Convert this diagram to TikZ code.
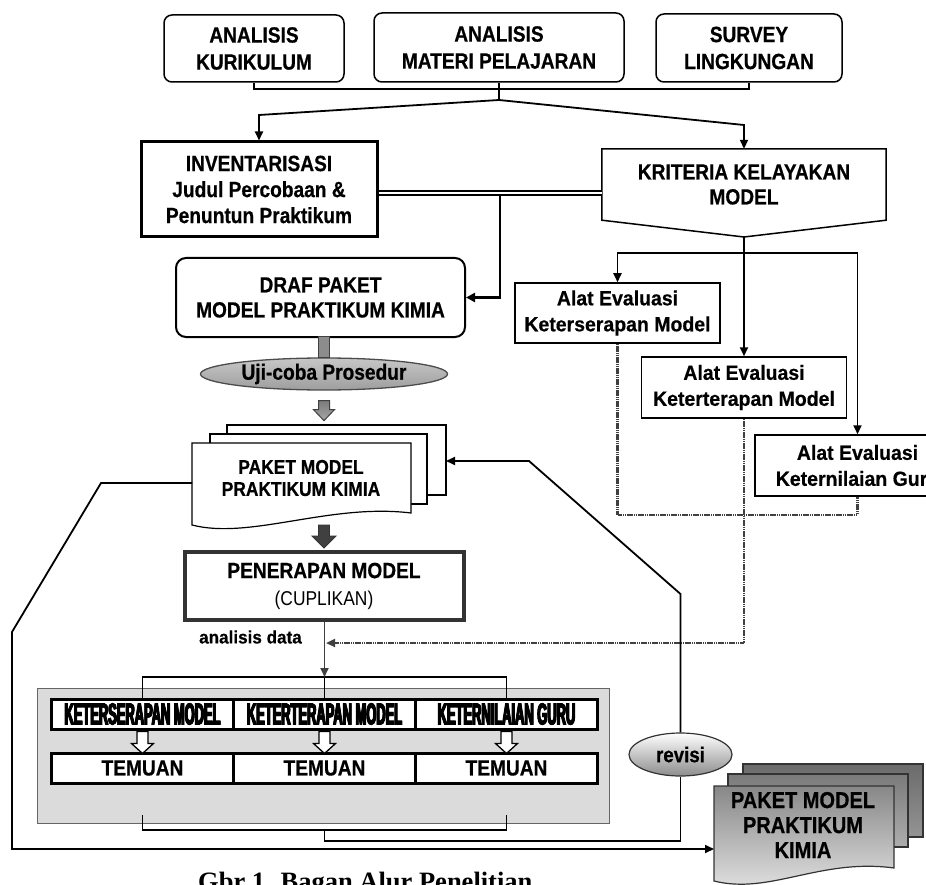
\documentclass[tikz,border=0pt]{standalone}
\usepackage{fontspec}
\setmainfont[FakeStretch=0.87, BoldFeatures={FakeBold=0.6}]{Liberation Sans}
\newfontfamily\alatfont[FakeStretch=0.95, BoldFeatures={FakeBold=0.5}]{Liberation Sans}
\newfontfamily\heavyfont[FakeStretch=0.43,FakeBold=3]{Liberation Sans Bold}
\newfontfamily\capfont{Liberation Serif}
\usetikzlibrary{arrows.meta,shapes.geometric}
\def\hollowdown(#1){\draw[line width=1.3pt, fill=white] (#1) ++(-5.5,1) -- ++(11,0) -- ++(0,12) -- ++(5.5,0) -- ++(-11,10) -- ++(-11,-10) -- ++(5.5,0) -- cycle;}
\newcommand{\heavytext}[1]{\rlap{#1}\hspace{0.4pt}#1}
\tikzset{
  topbox/.style={draw, rounded corners=8pt, line width=1.5pt, inner sep=0pt, align=center, font=\bfseries\fontsize{22}{27}\selectfont},
  flow/.style={line width=1.8pt},
  flowarrow/.style={line width=1.8pt, -{Triangle[width=8pt,length=9pt]}},
  alatbox/.style={draw, fill=white, line width=1.5pt, inner sep=0pt, align=center, minimum width=205pt, minimum height=61pt, font=\alatfont\bfseries\fontsize{20.5}{26}\selectfont},
  rowbox/.style={draw, fill=white, line width=3pt, inner sep=0pt, minimum width=182pt, minimum height=30pt},
  heavyrow/.style={rowbox, font=\heavyfont\fontsize{30}{32}\selectfont},
  dotline/.style={line width=2.2pt, black!75, dash pattern=on 1.6pt off 0.6pt},
  docline/.style={line width=1.2pt},
}
\begin{document}
\begin{tikzpicture}[x=1pt, y=-1pt]
			%%%%% START %%%%%
			\useasboundingbox (0,0) rectangle (926,885);
			\clip (0,0) rectangle (926,885);
			
			\node[topbox, minimum width=180pt, minimum height=67pt] (kurikulum) at (254,48.5) {ANALISIS\\KURIKULUM};
			\node[topbox, minimum width=250pt, minimum height=69pt] (materi) at (499,47.5) {ANALISIS\\MATERI PELAJARAN};
			\node[topbox, minimum width=186pt, minimum height=68pt] (survey) at (749,48) {SURVEY\\LINGKUNGAN};
			
			\coordinate (split) at (499,100);
			\coordinate (bendL) at (259,115);
			\coordinate (bendR) at (744,125);
			\draw[flow] (kurikulum.south) -- ++(0,6) -| (survey.south);
			\draw[flow] (materi.south) -- (split);
			
			\node[draw, line width=3pt, inner sep=0pt, minimum width=236pt, minimum height=95pt, align=center, font=\bfseries\fontsize{22}{26}\selectfont] (invent) at (259,189.5) {INVENTARISASI\\Judul Percobaan \&\\Penuntun Praktikum};
			\node[inner sep=0pt, minimum width=284pt, minimum height=71pt, align=center, font=\bfseries\fontsize{22}{25}\selectfont] (kriteria) at (744,184.5) {KRITERIA KELAYAKAN\\MODEL};
			\coordinate (krtip) at (744,237);
			\draw[line width=1.5pt] (kriteria.north west) -- (kriteria.north east) -- (kriteria.south east) -- (krtip) -- (kriteria.south west) -- cycle;
			
			\draw[flowarrow] (split) -- (bendL) -- (invent.north);
			\draw[flowarrow] (split) -- (bendR) -- (kriteria.north -| bendR);
			
			\draw[line width=1.7pt, double, double distance=2.5pt] (invent.east |- 0,193) -- (kriteria.west |- 0,193);
			
			\node[draw, rounded corners=10pt, line width=2pt, inner sep=0pt, minimum width=289pt, minimum height=79pt, align=center, font=\bfseries\fontsize{22}{25}\selectfont] (draf) at (320.5,297.5) {DRAF PAKET\\MODEL PRAKTIKUM KIMIA};
			\coordinate (junc) at (500,195);
			\draw[line width=2.4pt, -{Triangle[width=9pt,length=9pt]}] (junc) |- (draf.east);
			
			\node[ellipse, draw=black!70, line width=1.3pt, top color=black!22, bottom color=black!38, inner sep=0pt, minimum width=247pt, minimum height=32pt, font=\bfseries\fontsize{22}{26}\selectfont] (uji) at (324,374) {Uji-coba Prosedur};
			\draw[fill=black!45, draw=black!75, line width=1pt] (uji.north) ++(-5.5,0) rectangle ++(11,-21);
			\draw[top color=black!60, bottom color=black!35, draw=black!75, line width=1pt] (uji.south) ++(-5.5,10) -- ++(11,0) -- ++(0,9) -- ++(5,0) -- ++(-10.5,11) -- ++(-10.5,-11) -- ++(5,0) -- cycle;
			
			% paket model (draft)
			\draw[docline, fill=white] (227,425) rectangle (446,495);
			\draw[docline, fill=white] (210,434) rectangle (427,504);
			\draw[docline, fill=white] (192,443) -- (411,443) -- (411,513) .. controls (330,503) and (250,540) .. (192,525) -- cycle;
			\node[font=\bfseries\fontsize{20}{22}\selectfont, align=center] (paket) at (301,478) {PAKET MODEL\\PRAKTIKUM KIMIA};
			\coordinate (paketL) at (192,483);
			\coordinate (paketR) at (446,461);
			
			\node[draw=black!80, line width=4pt, inner sep=0pt, minimum width=279pt, minimum height=68pt, align=center, font=\bfseries\fontsize{22}{26}\selectfont] (penerapan) at (324,586) {PENERAPAN MODEL\\[1pt]{\mdseries\fontsize{20}{24}\selectfont(CUPLIKAN)}};
			\draw[fill=black!75, draw=black!80, line width=0.8pt] (penerapan.north) ++(-5.5,-25) -- ++(11,0) -- ++(0,11) -- ++(6.5,0) -- ++(-12,12) -- ++(-12,-12) -- ++(6.5,0) -- cycle;
			
			% alat evaluasi
			\node[alatbox, minimum height=60pt] (serap) at (617.5,313) {Alat Evaluasi\\Keterserapan Model};
			\node[alatbox] (terapan) at (744,387.5) {Alat Evaluasi\\Keterterapan Model};
			\node[alatbox] (nilai) at (857.5,465.5) {Alat Evaluasi\\Keternilaian Guru};
			\coordinate (krbar) at (744,253);
			\draw[flowarrow] (krtip) -- (terapan.north);
			\draw[flowarrow] (krbar) -| (serap.north);
			\draw[flowarrow] (krbar) -| (nilai.north);
			\draw[dotline] (serap.south) -- ++(0,171) -| (nilai.south);
			
			% hasil
			\draw[fill=black!14, draw=black!60, line width=1pt] (37,688) rectangle (609,823);
			\node[heavyrow] (r1a) at (142.5,714) {\heavytext{KETERSERAPAN MODEL}};
			\node[heavyrow] (r1b) at (324.5,714) {\heavytext{KETERTERAPAN MODEL}};
			\node[heavyrow] (r1c) at (506.5,714) {\heavytext{KETERNILAIAN GURU}};
			\node[rowbox, font=\bfseries\fontsize{22}{24}\selectfont] (t1) at (142.5,768) {TEMUAN};
			\node[rowbox, font=\bfseries\fontsize{22}{24}\selectfont] (t2) at (324.5,768) {TEMUAN};
			\node[rowbox, font=\bfseries\fontsize{22}{24}\selectfont] (t3) at (506.5,768) {TEMUAN};
			\hollowdown(r1a.south)
			\hollowdown(r1b.south)
			\hollowdown(r1c.south)
			
			\coordinate (topbar) at (324.5,677);
			\draw[flow] (r1a.north) -- (r1a.north |- topbar) -| (r1c.north);
			\draw[flow] (topbar) -- (r1b.north);
			\draw[line width=1.8pt, black!75, -{Triangle[width=8pt,length=9pt]}] (penerapan.south -| topbar) -- (topbar);
			\node[anchor=east, inner sep=0pt, font=\alatfont\bfseries\fontsize{18}{20}\selectfont] (analisis) at (302,637) {analisis data};
			\coordinate (datain) at (326,643);
			\draw[dotline, -{Triangle[width=8pt,length=9pt]}] (terapan.south) |- (datain);
			
			\coordinate (botL) at (142.5,815);
			\coordinate (botR) at (506.5,815);
			\draw[flow] (botL) -- (142.5,830) -| (botR);
			
			% revisi
			\node[ellipse, draw=black!80, line width=1.2pt, top color=white, bottom color=black!45, inner sep=0pt, minimum width=103pt, minimum height=43pt, font=\bfseries\fontsize{21.5}{24}\selectfont] (revisi) at (680.5,754.5) {revisi};
			\draw[flow] (324.5,830) -- (324.5,841) -| (revisi.south);
			\draw[flowarrow] (revisi.north) -- (680.5,594) -- (529,461) -- (paketR);
			
			% paket model (final)
			\draw[docline, draw=black!80, top color=black!58, bottom color=black!42] (743,764) rectangle (923,837);
			\draw[docline, draw=black!80, top color=black!52, bottom color=black!32] (728,774) rectangle (908,847);
			\draw[docline, draw=black!80, top color=black!47, bottom color=black!10] (714,786) -- (894,786) -- (894,868) .. controls (820,858) and (770,895) .. (714,881) -- cycle;
			\node[font=\bfseries\fontsize{23}{25}\selectfont, align=center] (final) at (803,825) {PAKET MODEL\\PRAKTIKUM\\KIMIA};
			\coordinate (finalL) at (714,849);
			\draw[flowarrow] (paketL) -- (101,483) -- (12,632) -- (12,849) -- (finalL);
			
			\node[anchor=base west, inner sep=0pt, font=\capfont\bfseries\fontsize{26.5}{30}\selectfont] (caption) at (198,890) {Gbr 1. Bagan Alur Penelitian};
			%%%%% END %%%%%
\end{tikzpicture}
\end{document}
